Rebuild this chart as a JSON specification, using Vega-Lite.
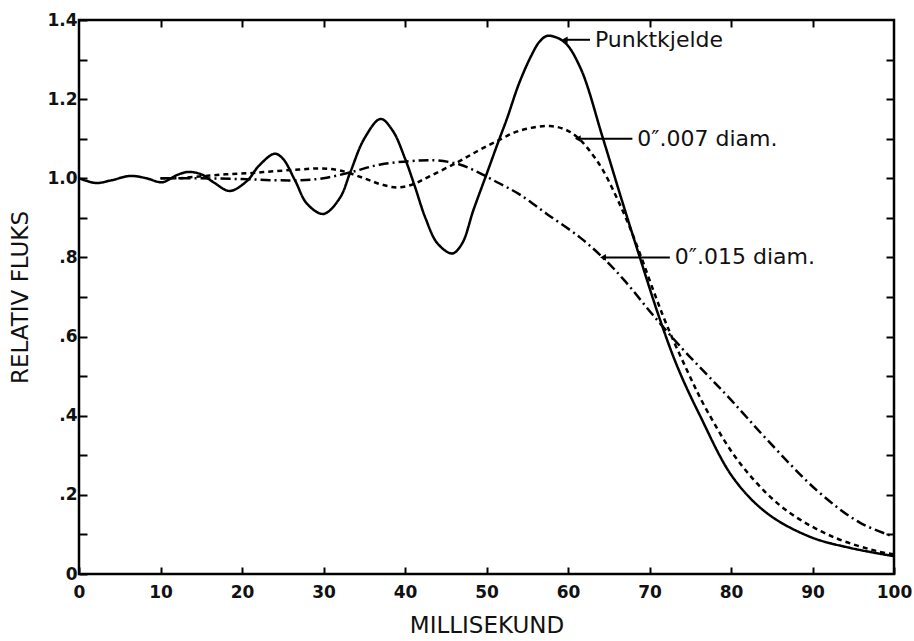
{
  "$schema": "https://vega.github.io/schema/vega-lite/v6.json",
  "width": 815,
  "height": 554,
  "autosize": "none",
  "padding": {"left": 79, "top": 20, "right": 20, "bottom": 67},
  "background": "white",
  "config": {
    "view": {"stroke": "black", "strokeWidth": 2.5},
    "font": "DejaVu Sans",
    "axis": {
      "domain": false, "grid": false, "tickColor": "black", "tickWidth": 2,
      "labelColor": "#111", "titleColor": "#111", "labelFont": "DejaVu Sans", "titleFont": "DejaVu Sans",
      "labelFontSize": 17, "labelFontWeight": "bold", "titleFontSize": 23, "titleFontWeight": "normal", "labelFlush": false
    }
  },
  "datasets": {
    "curves": [
      {"t": 0, "v": 1.0, "s": "P"}, {"t": 1, "v": 0.993, "s": "P"}, {"t": 2.2, "v": 0.988, "s": "P"}, {"t": 4, "v": 0.995, "s": "P"},
      {"t": 6.3, "v": 1.006, "s": "P"}, {"t": 8.3, "v": 1.0, "s": "P"}, {"t": 10.2, "v": 0.99, "s": "P"}, {"t": 12, "v": 1.008, "s": "P"},
      {"t": 13.4, "v": 1.016, "s": "P"}, {"t": 15, "v": 1.01, "s": "P"}, {"t": 16.5, "v": 0.99, "s": "P"}, {"t": 18.5, "v": 0.968, "s": "P"},
      {"t": 20.7, "v": 0.995, "s": "P"}, {"t": 22, "v": 1.03, "s": "P"}, {"t": 24, "v": 1.062, "s": "P"}, {"t": 25, "v": 1.05, "s": "P"},
      {"t": 26.5, "v": 0.995, "s": "P"}, {"t": 28, "v": 0.935, "s": "P"}, {"t": 30, "v": 0.91, "s": "P"}, {"t": 32, "v": 0.95, "s": "P"},
      {"t": 33.3, "v": 1.016, "s": "P"}, {"t": 35, "v": 1.1, "s": "P"}, {"t": 37, "v": 1.15, "s": "P"}, {"t": 38.5, "v": 1.12, "s": "P"},
      {"t": 40, "v": 1.05, "s": "P"}, {"t": 41.2, "v": 0.98, "s": "P"}, {"t": 42.5, "v": 0.9, "s": "P"}, {"t": 44, "v": 0.835, "s": "P"},
      {"t": 45.8, "v": 0.81, "s": "P"}, {"t": 47, "v": 0.835, "s": "P"}, {"t": 48.4, "v": 0.92, "s": "P"}, {"t": 50, "v": 1.01, "s": "P"},
      {"t": 51.5, "v": 1.095, "s": "P"}, {"t": 52.5, "v": 1.15, "s": "P"}, {"t": 54, "v": 1.24, "s": "P"}, {"t": 55.5, "v": 1.31, "s": "P"},
      {"t": 56.5, "v": 1.345, "s": "P"}, {"t": 57.5, "v": 1.36, "s": "P"},
      {"t": 59.5, "v": 1.345, "s": "P"}, {"t": 61.5, "v": 1.28, "s": "P"}, {"t": 64.3, "v": 1.1, "s": "P"}, {"t": 66.6, "v": 0.945, "s": "P"},
      {"t": 68.6, "v": 0.814, "s": "P"}, {"t": 71.3, "v": 0.642, "s": "P"}, {"t": 73.5, "v": 0.52, "s": "P"}, {"t": 76.2, "v": 0.4, "s": "P"},
      {"t": 80.2, "v": 0.245, "s": "P"}, {"t": 84.4, "v": 0.154, "s": "P"}, {"t": 89.7, "v": 0.094, "s": "P"}, {"t": 94.6, "v": 0.066, "s": "P"},
      {"t": 100, "v": 0.045, "s": "P"},
      {"t": 10, "v": 1.0, "s": "D"}, {"t": 12, "v": 1.0, "s": "D"}, {"t": 15, "v": 1.005, "s": "D"}, {"t": 18, "v": 1.01, "s": "D"},
      {"t": 21, "v": 1.013, "s": "D"}, {"t": 24, "v": 1.018, "s": "D"}, {"t": 27, "v": 1.022, "s": "D"}, {"t": 29.6, "v": 1.025, "s": "D"},
      {"t": 32, "v": 1.02, "s": "D"}, {"t": 35, "v": 1.0, "s": "D"}, {"t": 37, "v": 0.985, "s": "D"}, {"t": 39, "v": 0.977, "s": "D"},
      {"t": 41, "v": 0.985, "s": "D"}, {"t": 43, "v": 1.005, "s": "D"}, {"t": 46.4, "v": 1.04, "s": "D"}, {"t": 49, "v": 1.07, "s": "D"},
      {"t": 51.3, "v": 1.094, "s": "D"}, {"t": 54, "v": 1.12, "s": "D"}, {"t": 57.8, "v": 1.132, "s": "D"}, {"t": 60, "v": 1.12, "s": "D"},
      {"t": 61.5, "v": 1.097, "s": "D"}, {"t": 63, "v": 1.06, "s": "D"}, {"t": 64.3, "v": 1.02, "s": "D"}, {"t": 66, "v": 0.95, "s": "D"},
      {"t": 67.5, "v": 0.88, "s": "D"}, {"t": 69, "v": 0.8, "s": "D"}, {"t": 70.5, "v": 0.715, "s": "D"}, {"t": 72.1, "v": 0.63, "s": "D"},
      {"t": 74.6, "v": 0.515, "s": "D"}, {"t": 77, "v": 0.415, "s": "D"}, {"t": 81.1, "v": 0.28, "s": "D"}, {"t": 86.4, "v": 0.167, "s": "D"},
      {"t": 92.5, "v": 0.094, "s": "D"}, {"t": 98.3, "v": 0.056, "s": "D"}, {"t": 100, "v": 0.05, "s": "D"},
      {"t": 10, "v": 1.0, "s": "DD"}, {"t": 15, "v": 1.0, "s": "DD"}, {"t": 20, "v": 0.998, "s": "DD"}, {"t": 24, "v": 0.995, "s": "DD"},
      {"t": 27, "v": 0.995, "s": "DD"}, {"t": 30, "v": 1.0, "s": "DD"}, {"t": 33.3, "v": 1.015, "s": "DD"}, {"t": 37, "v": 1.035, "s": "DD"},
      {"t": 41.8, "v": 1.045, "s": "DD"}, {"t": 44, "v": 1.045, "s": "DD"}, {"t": 46.7, "v": 1.035, "s": "DD"}, {"t": 49, "v": 1.015, "s": "DD"},
      {"t": 51.3, "v": 0.99, "s": "DD"}, {"t": 54, "v": 0.96, "s": "DD"}, {"t": 57.4, "v": 0.91, "s": "DD"}, {"t": 61.5, "v": 0.85, "s": "DD"},
      {"t": 64.5, "v": 0.795, "s": "DD"}, {"t": 67, "v": 0.74, "s": "DD"}, {"t": 70.4, "v": 0.655, "s": "DD"}, {"t": 74, "v": 0.57, "s": "DD"},
      {"t": 77, "v": 0.505, "s": "DD"}, {"t": 80, "v": 0.44, "s": "DD"}, {"t": 84.4, "v": 0.34, "s": "DD"}, {"t": 90.6, "v": 0.21, "s": "DD"},
      {"t": 95.8, "v": 0.13, "s": "DD"}, {"t": 100, "v": 0.094, "s": "DD"}
    ],
    "notes": [
      {"label": "Punktkjelde", "tip": 59.6, "tail": 62.7, "tx": 63.3, "v": 1.35},
      {"label": "0″.007  diam.", "tip": 61.2, "tail": 67.9, "tx": 68.5, "v": 1.1},
      {"label": "0″.015 diam.", "tip": 64.3, "tail": 72.5, "tx": 73.1, "v": 0.8}
    ]
  },
  "layer": [
    {
      "data": {"name": "curves"},
      "mark": {"type": "line", "interpolate": "catmull-rom", "color": "black", "strokeWidth": 2.5},
      "encoding": {
        "x": {"field": "t", "type": "quantitative", "scale": {"domain": [0, 100], "nice": false},
          "axis": {"orient": "bottom", "values": [0,10,20,30,40,50,60,70,80,90,100], "tickSize": -7, "labelPadding": 17, "title": "MILLISEKUND", "titlePadding": 14}},
        "y": {"field": "v", "type": "quantitative", "scale": {"domain": [0, 1.4], "nice": false},
          "axis": {"orient": "left", "values": [0,0.1,0.2,0.3,0.4,0.5,0.6,0.7,0.8,0.9,1.0,1.1,1.2,1.3,1.4], "tickSize": -8, "labelPadding": 10,
            "labelExpr": "round(datum.value*10)%2==1 ? '' : (datum.value==0 ? '0' : (datum.value<1 ? replace(format(datum.value,'.1f'),'0.','.') : format(datum.value,'.1f')))",
            "title": "RELATIV  FLUKS", "titlePadding": 14}},
        "strokeDash": {"field": "s", "type": "nominal", "scale": {"domain": ["P", "D", "DD"], "range": [[1, 0], [5, 4], [10, 4, 2, 4]]}, "legend": null}
      }
    },
    {
      "data": {"name": "notes"},
      "layer": [
        {
          "mark": {"type": "rule", "color": "black", "strokeWidth": 2},
          "encoding": {
            "x": {"field": "tip", "type": "quantitative"},
            "x2": {"field": "tail"},
            "y": {"field": "v", "type": "quantitative"}
          }
        },
        {
          "mark": {"type": "point", "shape": "triangle-left", "filled": true, "color": "black", "size": 45, "opacity": 1, "dx": 4},
          "encoding": {
            "x": {"field": "tip", "type": "quantitative"},
            "y": {"field": "v", "type": "quantitative"}
          }
        },
        {
          "mark": {"type": "text", "align": "left", "baseline": "middle", "fontSize": 22, "color": "#111", "font": "DejaVu Sans"},
          "encoding": {
            "x": {"field": "tx", "type": "quantitative",
              "axis": {"orient": "top", "values": [10,20,30,40,50,60,70,80,90], "tickSize": -7, "labels": false, "title": null}},
            "y": {"field": "v", "type": "quantitative",
              "axis": {"orient": "right", "values": [0.1,0.2,0.3,0.4,0.5,0.6,0.7,0.8,0.9,1.0,1.1,1.2,1.3], "tickSize": -8, "labels": false, "title": null}},
            "text": {"field": "label"}
          }
        }
      ]
    }
  ],
  "resolve": {"axis": {"x": "independent", "y": "independent"}}
}
